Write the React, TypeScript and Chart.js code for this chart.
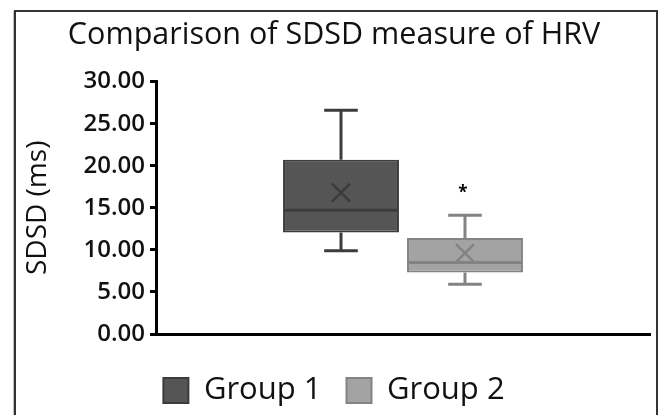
import React, { useEffect, useRef } from "react";
import { Chart, registerables } from "chart.js";

Chart.register(...registerables);

const TITLE = "Comparison of SDSD measure of HRV";
const Y_TITLE = "SDSD (ms)";
const CATEGORIES = [""];
const SERIES_NAMES = ["Group 1", "Group 2"];
const WHISKER_MIN = [9.9, 5.9];
const Q1 = [12.05, 7.3];
const MEDIAN = [14.7, 8.5];
const Q3 = [20.7, 11.4];
const WHISKER_MAX = [26.6, 14.1];
const MEAN = [16.8, 9.6];
const FILLS = ["#555555", "#a3a3a3"];
const BORDERS = ["#3c3c3c", "#838383"];
const MARK_TEXT = ["", "*"];
const MARK_VALUE = [0, 17.1];
const Y_MIN = 0;
const Y_MAX = 30;
const Y_STEP = 5;

const framePlugin = {
  id: "frame",
  beforeDraw(chart: any) {
    const ctx = chart.ctx;
    ctx.save();
    ctx.fillStyle = "#ffffff";
    ctx.fillRect(0, 0, chart.width, chart.height);
    ctx.strokeStyle = "#bdbdbd";
    ctx.lineWidth = 1;
    ctx.beginPath();
    ctx.moveTo(13.5, 11);
    ctx.lineTo(13.5, chart.height + 2);
    ctx.stroke();
    ctx.strokeStyle = "#333333";
    ctx.lineWidth = 2;
    ctx.beginPath();
    ctx.moveTo(15, chart.height + 2);
    ctx.lineTo(15, 11);
    ctx.lineTo(657, 11);
    ctx.lineTo(657, chart.height + 2);
    ctx.stroke();
    ctx.restore();
  },
};

const boxPlugin = {
  id: "boxExtras",
  afterDatasetsDraw(chart: any) {
    const ctx = chart.ctx;
    const y = chart.scales.y;
    ctx.save();
    chart.data.datasets.forEach((ds: any, i: number) => {
      const meta = chart.getDatasetMeta(i);
      const el = meta.data[0];
      if (!el) return;
      const cx = el.x;
      const w = el.width;
      const color = BORDERS[i];
      ctx.strokeStyle = color;
      ctx.lineWidth = 3;
      const yMin = y.getPixelForValue(WHISKER_MIN[i]);
      const yQ1 = y.getPixelForValue(Q1[i]);
      const yQ3 = y.getPixelForValue(Q3[i]);
      const yMax = y.getPixelForValue(WHISKER_MAX[i]);
      const yMed = y.getPixelForValue(MEDIAN[i]);
      const cap = w * 0.29;
      ctx.beginPath();
      ctx.moveTo(cx, yQ3);
      ctx.lineTo(cx, yMax);
      ctx.moveTo(cx - cap / 2, yMax);
      ctx.lineTo(cx + cap / 2, yMax);
      ctx.moveTo(cx, yQ1);
      ctx.lineTo(cx, yMin);
      ctx.moveTo(cx - cap / 2, yMin);
      ctx.lineTo(cx + cap / 2, yMin);
      ctx.stroke();
      ctx.beginPath();
      ctx.moveTo(el.x - w / 2 + 1, yMed);
      ctx.lineTo(el.x + w / 2 - 1, yMed);
      ctx.stroke();
      const yMean = y.getPixelForValue(MEAN[i]);
      const s = 9;
      ctx.lineWidth = 2.5;
      ctx.beginPath();
      ctx.moveTo(cx - s, yMean - s);
      ctx.lineTo(cx + s, yMean + s);
      ctx.moveTo(cx + s, yMean - s);
      ctx.lineTo(cx - s, yMean + s);
      ctx.stroke();
      if (MARK_TEXT[i]) {
        ctx.fillStyle = "#000000";
        ctx.font = "bold 17px 'Open Sans'";
        ctx.textAlign = "center";
        ctx.textBaseline = "middle";
        ctx.fillText(MARK_TEXT[i], cx - 2, y.getPixelForValue(MARK_VALUE[i]) + 3);
      }
    });
    ctx.restore();
  },
};

export default function App() {
  const ref = useRef<HTMLCanvasElement | null>(null);
  useEffect(() => {
    if (!ref.current) return;
    const chart = new Chart(ref.current, {
      type: "bar",
      data: {
        labels: CATEGORIES,
        datasets: SERIES_NAMES.map((name, i) => ({
          label: name,
          data: [[Q1[i], Q3[i]]] as any,
          backgroundColor: FILLS[i],
          borderColor: BORDERS[i],
          borderWidth: 2,
          borderSkipped: false,
          categoryPercentage: 0.502,
          barPercentage: 0.935,
        })),
      },
      options: {
        animation: false,
        responsive: false,
        maintainAspectRatio: false,
        layout: { padding: { left: 18, right: 10, top: 0, bottom: -1 } },
        plugins: {
          title: {
            display: true,
            text: TITLE,
            color: "#111111",
            font: { family: "'Open Sans'", size: 30.5, weight: "normal" },
            padding: { top: 17, bottom: 28 },
          },
          legend: {
            display: true,
            position: "bottom",
            labels: {
              color: "#111111",
              font: { family: "'Open Sans'", size: 31 },
              boxWidth: 25,
              boxHeight: 25,
              padding: 25,
            },
          },
          tooltip: { enabled: false },
        },
        scales: {
          x: {
            grid: { display: false },
            ticks: { display: false },
            border: { display: true, color: "#000000", width: 3 },
            afterFit: (scale: any) => {
              scale.height = 16;
            },
          },
          y: {
            min: Y_MIN,
            max: Y_MAX,
            ticks: {
              stepSize: Y_STEP,
              color: "#111111",
              font: { family: "'Open Sans'", size: 24, weight: "600" },
              padding: 5,
              callback: (v: any) => Number(v).toFixed(2),
            },
            grid: {
              drawOnChartArea: false,
              drawTicks: true,
              tickLength: 6,
              color: "#000000",
              lineWidth: 3,
            },
            border: { display: true, color: "#000000", width: 3 },
            title: {
              display: true,
              text: Y_TITLE,
              color: "#111111",
              font: { family: "'Open Sans'", size: 28 },
              padding: { top: 3, bottom: 0 },
            },
            afterFit: (scale: any) => {
              scale.width = 138;
            },
          },
        },
      },
      plugins: [framePlugin, boxPlugin],
    });
    return () => chart.destroy();
  }, []);
  return (
    <div style={{ position: "fixed", left: 0, top: 0, width: 660, height: 415 }}>
      <canvas ref={ref} width={660} height={415} style={{ display: "block" }} />
    </div>
  );
}
